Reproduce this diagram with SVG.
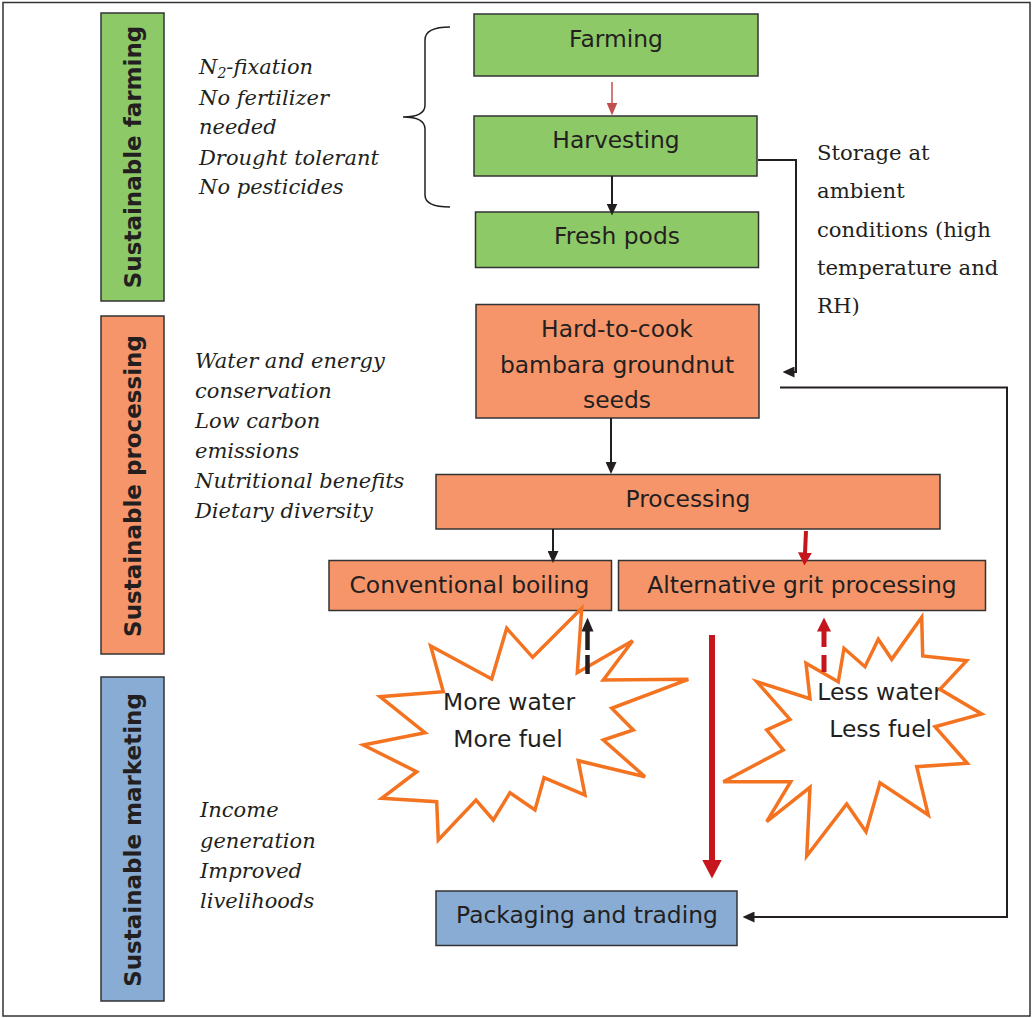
<svg xmlns="http://www.w3.org/2000/svg" xmlns:xlink="http://www.w3.org/1999/xlink" width="1033" height="1018" viewBox="0 0 1033 1018">
<style>
.box{stroke:#333;stroke-width:1.5}
.g{fill:#8ec968}.o{fill:#f7956a}.b{fill:#88acd3}
.bt{font-family:"DejaVu Sans",Verdana,sans-serif;font-size:23.4px;fill:#231f20;text-anchor:middle}
.side{font-family:"DejaVu Sans","Liberation Sans",sans-serif;font-weight:bold;font-size:23px;fill:#231f20;text-anchor:middle}
.it{font-family:"DejaVu Serif","Liberation Serif",serif;font-style:italic;font-size:21px;fill:#231f20}
.sr{font-family:"DejaVu Serif","Liberation Serif",serif;font-size:21.2px;fill:#231f20}
.k{fill:none;stroke:#231f20;stroke-width:2}
.star{fill:#fff;stroke:#f47321;stroke-width:3.5;stroke-linejoin:miter}
</style>
<defs>
<marker id="ahK" markerUnits="userSpaceOnUse" markerWidth="12" markerHeight="11" viewBox="0 0 12 11" refX="0.5" refY="5.5" orient="auto"><path d="M0,0 L12,5.5 L0,11 z" fill="#231f20"/></marker>
<marker id="ahRt" markerUnits="userSpaceOnUse" markerWidth="13" markerHeight="11" viewBox="0 0 13 11" refX="0.5" refY="5.5" orient="auto"><path d="M0,0 L13,5.5 L0,11 z" fill="#c0504d"/></marker>
<marker id="ahR" markerUnits="userSpaceOnUse" markerWidth="13" markerHeight="14" viewBox="0 0 13 14" refX="0.5" refY="7" orient="auto"><path d="M0,0 L13,7 L0,14 z" fill="#c4161c"/></marker>
<marker id="ahRB" markerUnits="userSpaceOnUse" markerWidth="19" markerHeight="20" viewBox="0 0 19 20" refX="0.5" refY="10" orient="auto"><path d="M0,0 L19,10 L0,20 z" fill="#c4161c"/></marker>
<marker id="ahKD" markerUnits="userSpaceOnUse" markerWidth="14" markerHeight="12" viewBox="0 0 14 12" refX="0.5" refY="6" orient="auto"><path d="M0,0 L14,6 L0,12 z" fill="#231f20"/></marker>
<marker id="ahRD" markerUnits="userSpaceOnUse" markerWidth="14" markerHeight="14" viewBox="0 0 14 14" refX="0.5" refY="7" orient="auto"><path d="M0,0 L14,7 L0,14 z" fill="#c4161c"/></marker>
<polygon id="star1shape" points="581.7,608.3 577.3,672.7 632.7,640.7 603.3,680 688.3,679.3 611.7,708.3 633.3,730 603.3,740 645,776.7 578.3,760.7 585,795 544,777.7 535,810 510,792.7 493.3,820 476,800 438.3,840 436.7,801.7 381.7,798.3 416.7,771.7 363.3,745 425,732.7 380,696.7 443.3,691.7 430.7,646 491.7,679 506.7,628.3 532.7,657.3"/>
<polygon id="star2shape" points="921.7,617.3 922.7,656 966.7,660.7 940,689.3 981.7,714 935,726.7 967.3,763.3 916.7,766.7 928.3,815 880,782.7 866,831.7 846.7,804 806.7,856 810,787.3 766.7,821.7 790.7,781.7 723.3,781.7 783.3,750 766.7,730 790,719.3 756.7,681.7 810,698.7 806,663.3 838.3,681.7 844,648.3 865,666.7 878.3,639.3 891.7,659.3"/>
<clipPath id="clip2"><use xlink:href="#star2shape"/></clipPath>
</defs>
<rect x="3" y="2.5" width="1027" height="1013.5" fill="#fff" stroke="#333" stroke-width="1.5"/>

<g id="side-farming"><rect class="box g" x="101" y="13" width="63" height="288"/><text class="side" transform="translate(141,157) rotate(-90)">Sustainable farming</text></g>
<g id="side-processing"><rect class="box o" x="101" y="316" width="63" height="338"/><text class="side" transform="translate(141,486) rotate(-90)">Sustainable processing</text></g>
<g id="side-marketing"><rect class="box b" x="101" y="677" width="63" height="324"/><text class="side" transform="translate(141,840) rotate(-90)">Sustainable marketing</text></g>

<g id="notes-farming">
<text class="it" x="199" y="74">N<tspan font-size="14" dy="4">2</tspan><tspan dy="-4">-fixation</tspan></text>
<text class="it" x="199" y="105">No fertilizer</text>
<text class="it" x="199" y="134">needed</text>
<text class="it" x="199" y="165">Drought tolerant</text>
<text class="it" x="199" y="194">No pesticides</text>
<path d="M450,27 Q425,27 425,40 L425,105 Q425,117 403,117 Q425,117 425,129 L425,195 Q425,207 450,207" fill="none" stroke="#231f20" stroke-width="1.5"/>
</g>
<g id="notes-processing">
<text class="it" x="195" y="368">Water and energy</text>
<text class="it" x="195" y="398">conservation</text>
<text class="it" x="195" y="428">Low carbon</text>
<text class="it" x="195" y="458">emissions</text>
<text class="it" x="195" y="488">Nutritional benefits</text>
<text class="it" x="195" y="518">Dietary diversity</text>
</g>
<g id="notes-marketing">
<text class="it" x="200" y="817">Income</text>
<text class="it" x="200" y="848">generation</text>
<text class="it" x="200" y="878">Improved</text>
<text class="it" x="200" y="908">livelihoods</text>
</g>
<g id="storage-label">
<text class="sr" x="817" y="160">Storage at</text>
<text class="sr" x="817" y="198">ambient</text>
<text class="sr" x="817" y="237">conditions (high</text>
<text class="sr" x="817" y="275">temperature and</text>
<text class="sr" x="817" y="313">RH)</text>
</g>

<g id="farming"><rect class="box g" x="474" y="14" width="284" height="62"/><text class="bt" x="616" y="47">Farming</text></g>
<g id="harvesting"><rect class="box g" x="474" y="116" width="283" height="60"/><text class="bt" x="616" y="148">Harvesting</text></g>
<g id="fresh-pods"><rect class="box g" x="475.5" y="212" width="283" height="55.5"/><text class="bt" x="617" y="244">Fresh pods</text></g>
<g id="hard-to-cook"><rect class="box o" x="476" y="304.5" width="283" height="113.5"/><text class="bt" x="617" y="337">Hard-to-cook</text><text class="bt" x="617" y="373">bambara groundnut</text><text class="bt" x="617" y="408">seeds</text></g>
<g id="processing"><rect class="box o" x="436" y="474.5" width="504" height="54.5"/><text class="bt" x="688" y="506.5">Processing</text></g>
<g id="conventional-boiling"><rect class="box o" x="329" y="560.5" width="282.5" height="50"/><text class="bt" x="469.5" y="592.5">Conventional boiling</text></g>
<g id="alternative-grit"><rect class="box o" x="618.5" y="560.5" width="367" height="50"/><text class="bt" x="802" y="592.5">Alternative grit processing</text></g>
<g id="packaging"><rect class="box b" x="436" y="891" width="301" height="54.5"/><text class="bt" x="587" y="923">Packaging and trading</text></g>

<g id="more-water">
<use xlink:href="#star1shape" class="star"/>
<text class="bt" x="509" y="710">More water</text>
<text class="bt" x="508" y="746.5">More fuel</text>
</g>
<g id="less-water">
<use xlink:href="#star2shape" fill="#fff"/>
<g clip-path="url(#clip2)"><text class="bt" x="817.3" y="700" style="text-anchor:start">Less water</text><text class="bt" x="829.3" y="736.5" style="text-anchor:start">Less fuel</text></g>
<use xlink:href="#star2shape" class="star" style="fill:none"/>
</g>

<g id="connectors">
<line x1="612" y1="82" x2="612" y2="103" stroke="#c0504d" stroke-width="1.5" marker-end="url(#ahRt)"/>
<line class="k" x1="612" y1="176" x2="612" y2="204" marker-end="url(#ahK)"/>
<path class="k" d="M758,160 H796 V372 H794" marker-end="url(#ahK)"/>
<line class="k" x1="611" y1="418" x2="611" y2="462.5" marker-end="url(#ahK)"/>
<path class="k" d="M780,387.5 H1007 V917 H754" marker-end="url(#ahK)"/>
<line class="k" x1="553" y1="529" x2="553" y2="551.5" marker-end="url(#ahK)"/>
<line x1="806" y1="531" x2="805" y2="553" stroke="#c4161c" stroke-width="4" marker-end="url(#ahR)"/>
<line x1="712" y1="635" x2="712" y2="860" stroke="#c4161c" stroke-width="6" marker-end="url(#ahRB)"/>
<line x1="587.5" y1="674" x2="587.5" y2="631" stroke="#231f20" stroke-width="4.5" stroke-dasharray="19 5" marker-end="url(#ahKD)"/>
<line x1="824" y1="672" x2="824" y2="631" stroke="#c4161c" stroke-width="5" stroke-dasharray="17 8" marker-end="url(#ahRD)"/>
</g>
</svg>
